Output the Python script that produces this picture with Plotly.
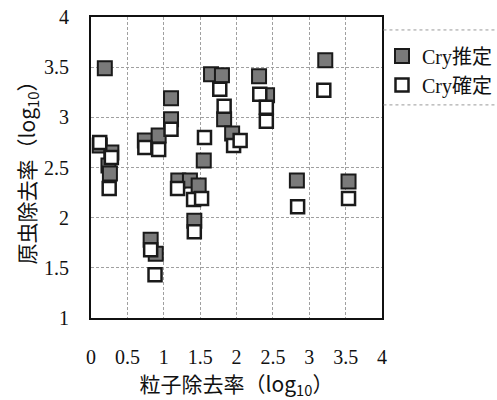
import plotly.graph_objects as go

# Cry推定 (estimated) — particle removal vs. protozoa removal, log10
est_x = [0.19, 1.10, 1.65, 1.80, 2.31, 2.42, 3.22, 1.10, 1.83, 1.94,
         0.74, 0.93, 0.12, 0.28, 0.24, 1.55, 0.26, 1.20, 1.36, 1.48,
         2.83, 3.54, 1.42, 0.82, 0.89]
est_y = [3.49, 3.19, 3.43, 3.42, 3.41, 3.22, 3.57, 2.98, 2.98, 2.84,
         2.77, 2.82, 2.72, 2.65, 2.52, 2.57, 2.44, 2.37, 2.37, 2.32,
         2.37, 2.36, 1.97, 1.78, 1.64]

# Cry確定 (confirmed)
conf_x = [1.77, 2.32, 3.20, 1.83, 2.41, 2.41, 1.10, 1.56, 0.74, 0.93,
          1.96, 2.05, 0.12, 0.28, 0.25, 1.19, 1.41, 1.52, 2.84, 3.54,
          1.42, 0.82, 0.88]
conf_y = [3.28, 3.23, 3.27, 3.11, 3.10, 2.96, 2.88, 2.80, 2.70, 2.68,
          2.72, 2.77, 2.75, 2.60, 2.29, 2.29, 2.18, 2.19, 2.11, 2.19,
          1.86, 1.68, 1.43]

x_ticks = [0, 0.5, 1, 1.5, 2, 2.5, 3, 3.5, 4]
y_ticks = [1, 1.5, 2, 2.5, 3, 3.5, 4]

serif = "'Liberation Serif', 'Times New Roman', serif"
cjk = "'Noto Sans CJK JP'"

fig = go.Figure()
fig.add_trace(go.Scatter(
    x=est_x, y=est_y, mode="markers", name="Cry推定",
    marker=dict(symbol="square", size=14, color="#7a7a7a",
                line=dict(color="#1a1a1a", width=2)),
))
fig.add_trace(go.Scatter(
    x=conf_x, y=conf_y, mode="markers", name="Cry確定",
    marker=dict(symbol="square", size=13, color="white",
                line=dict(color="#1a1a1a", width=2.5)),
))

axis_common = dict(
    showgrid=True, gridcolor="#a0a0a0", griddash="3px,2px", gridwidth=1,
    showline=True, linecolor="#111", linewidth=2, mirror=True,
    zeroline=False, ticks="",
    tickfont=dict(family=serif, size=20, color="#111"),
)

fig.update_xaxes(
    range=[0, 4], tickvals=x_ticks, ticktext=[f"{v:g}" for v in x_ticks],
    ticklabelstandoff=20,
    title=dict(text="粒子除去率（log<sub>10</sub>）", standoff=9,
               font=dict(family=cjk + ", " + serif, size=21, color="#111")),
    **axis_common,
)
fig.update_yaxes(
    range=[1, 4], tickvals=y_ticks, ticktext=[f"{v:g}" for v in y_ticks],
    ticklabelstandoff=16,
    title=dict(text="原虫除去率（log<sub>10</sub>）", standoff=3,
               font=dict(family=cjk + ", " + serif, size=21, color="#111")),
    **axis_common,
)

# dashed rules above and below the legend
for yy in (0.957, 0.708):
    fig.add_shape(type="line", xref="paper", yref="paper",
                  x0=1.005, x1=1.40, y0=yy, y1=yy,
                  line=dict(color="#999", width=1, dash="dot"))

fig.update_layout(
    width=497, height=400,
    margin=dict(l=91, r=115, t=17, b=82, autoexpand=False),
    plot_bgcolor="white", paper_bgcolor="white",
    showlegend=True,
    legend=dict(x=1.0, xanchor="left", y=0.935, yanchor="top",
                itemwidth=30, bgcolor="rgba(0,0,0,0)",
                font=dict(family=serif + ", " + cjk, size=20, color="#111"),
                tracegroupgap=2),
)

fig.write_html("out.html")
